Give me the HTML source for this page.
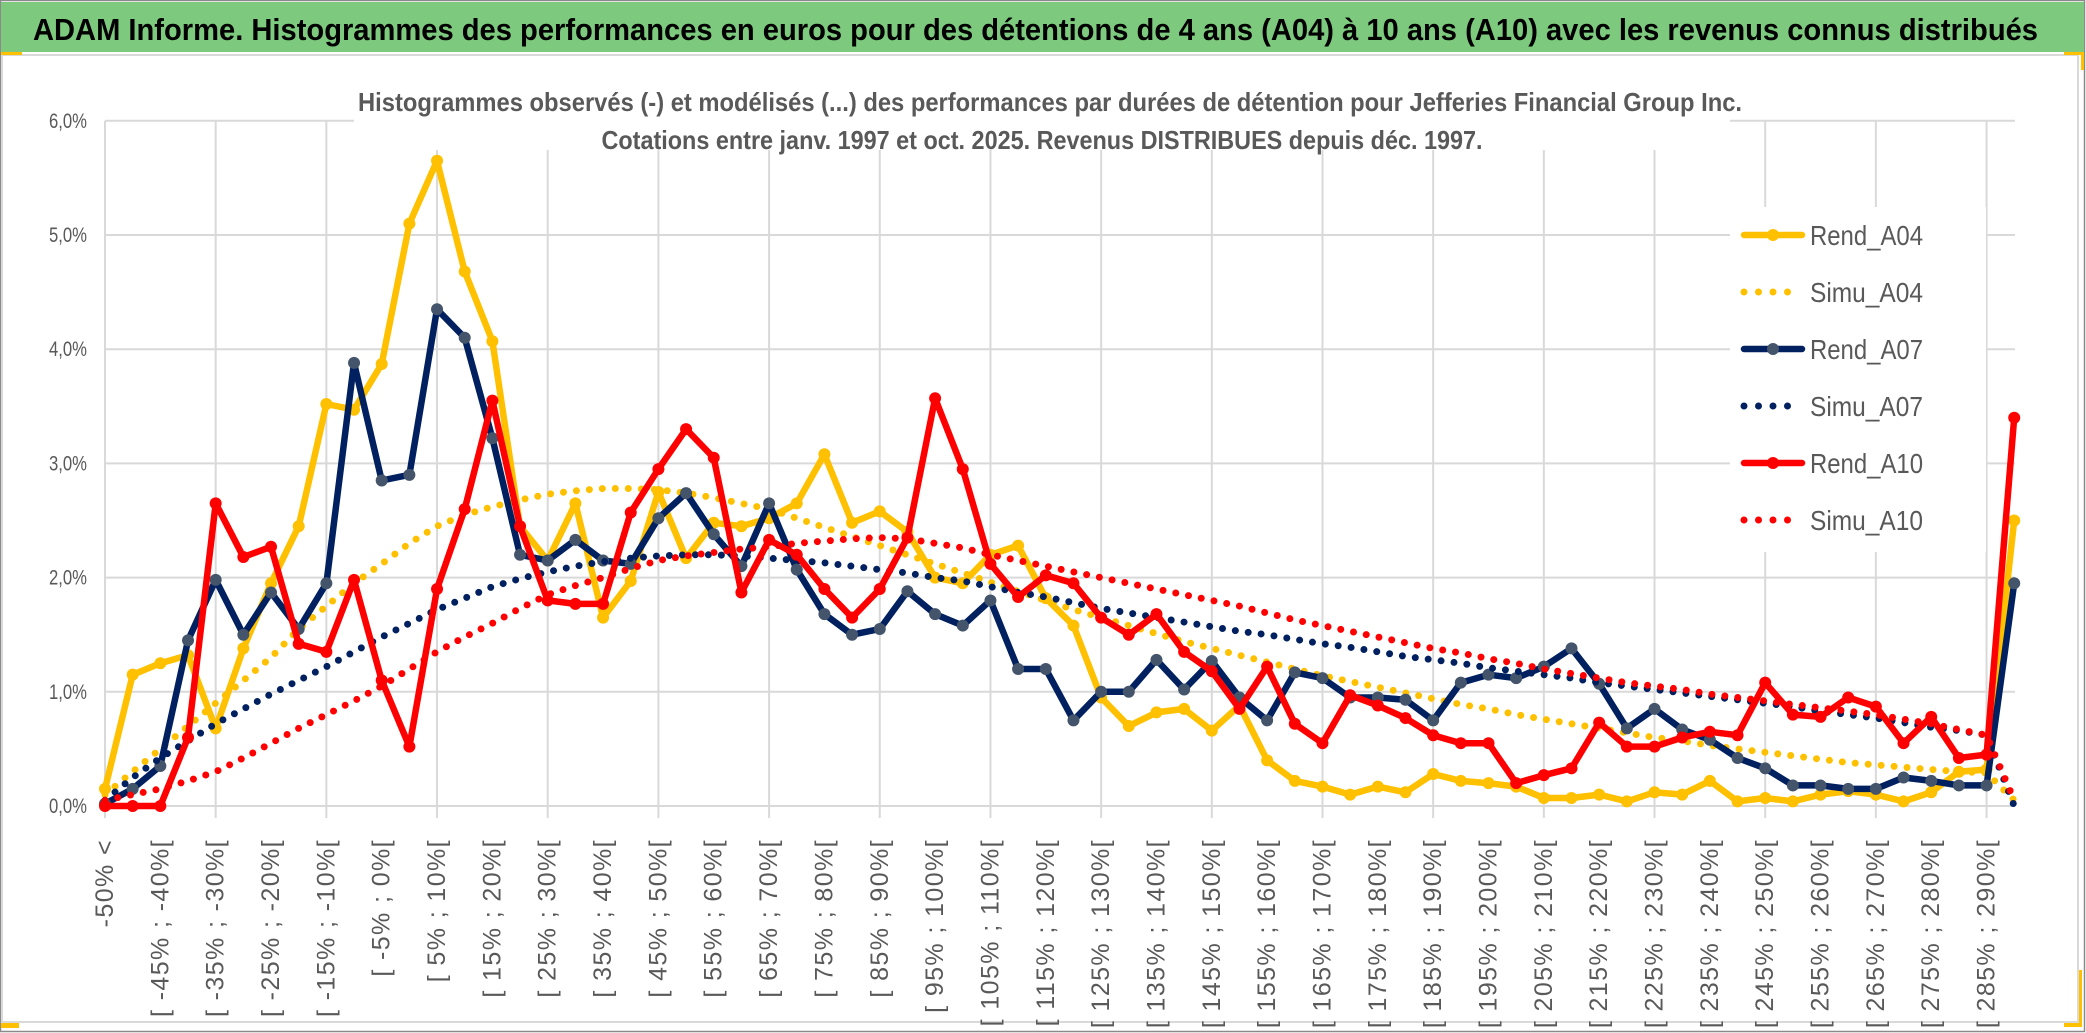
<!DOCTYPE html>
<html><head><meta charset="utf-8"><style>
html,body{margin:0;padding:0;background:#fff;}
svg{display:block;font-family:"Liberation Sans",sans-serif;}
</style></head><body>
<svg id="chart" width="2086" height="1033" viewBox="0 0 2086 1033" xmlns="http://www.w3.org/2000/svg">
<rect x="0" y="0" width="2086" height="1033" fill="#fff"/>
<rect x="0.5" y="0.5" width="2084" height="1031" fill="none" stroke="#8a8a8a" stroke-width="1.5"/>
<rect x="1" y="2" width="2083" height="50" fill="#7dca7e"/>
<text x="33" y="40" font-size="31" font-weight="bold" fill="#000" textLength="2005" lengthAdjust="spacingAndGlyphs">ADAM Informe. Histogrammes des performances en euros pour des détentions de 4 ans (A04) à 10 ans (A10) avec les revenus connus distribués</text>
<rect x="2" y="55" width="2076" height="967" fill="none" stroke="#d9d9d9" stroke-width="2"/>
<rect x="1" y="52" width="21" height="3" fill="#ffc000"/>
<rect x="2064" y="52" width="20" height="3" fill="#ffc000"/>
<rect x="2081" y="52" width="3" height="18" fill="#ffc000"/>
<rect x="2064" y="1023" width="18" height="4" fill="#ffc000"/>
<rect x="2079" y="970" width="3" height="56" fill="#ffc000"/>
<rect x="1" y="1023" width="18" height="5" fill="#ffc000"/>
<g id="grid"></g>
<rect x="354" y="60" width="1376" height="90" fill="#fff"/>
<text x="1050" y="111" font-size="26" font-weight="bold" fill="#595959" text-anchor="middle" textLength="1384" lengthAdjust="spacingAndGlyphs">Histogrammes observés (-) et modélisés (...) des performances par durées de détention pour Jefferies Financial Group Inc.</text>
<text x="1042" y="149" font-size="26" font-weight="bold" fill="#595959" text-anchor="middle" textLength="881" lengthAdjust="spacingAndGlyphs">Cotations entre janv. 1997 et oct. 2025. Revenus DISTRIBUES depuis déc. 1997.</text>
<g id="yaxis"></g>
<g id="xaxis"></g>
<rect x="1730" y="207" width="256" height="345" fill="#fff"/>
<g id="series"></g>
<g id="legend"></g>
</svg>
<script>
const yTicks = [0,1,2,3,4,5,6];
const yTickLabels = ["0,0%","1,0%","2,0%","3,0%","4,0%","5,0%","6,0%"];
const seriesNames = ["Rend_A04","Simu_A04","Rend_A07","Simu_A07","Rend_A10","Simu_A10"];
const rendA04 = [0.15,1.15,1.25,1.32,0.68,1.38,1.95,2.45,3.52,3.47,3.87,5.1,5.65,4.68,4.07,2.45,2.15,2.65,1.65,1.97,2.75,2.17,2.48,2.45,2.52,2.65,3.08,2.48,2.58,2.4,2.0,1.95,2.2,2.28,1.82,1.58,0.95,0.7,0.82,0.85,0.66,0.88,0.4,0.22,0.17,0.1,0.17,0.12,0.28,0.22,0.2,0.17,0.07,0.07,0.1,0.04,0.12,0.1,0.22,0.04,0.07,0.04,0.1,0.13,0.1,0.04,0.12,0.3,0.32,2.5];
const simuA04 = [0.1,0.3,0.5,0.7,0.9,1.1,1.3,1.55,1.75,1.95,2.12,2.3,2.45,2.55,2.62,2.68,2.73,2.76,2.78,2.78,2.77,2.74,2.7,2.65,2.6,2.52,2.44,2.36,2.28,2.2,2.12,2.04,1.96,1.88,1.8,1.72,1.65,1.58,1.51,1.44,1.38,1.32,1.26,1.2,1.14,1.09,1.04,0.99,0.94,0.89,0.85,0.8,0.76,0.72,0.68,0.64,0.6,0.57,0.53,0.5,0.47,0.44,0.41,0.38,0.36,0.34,0.32,0.3,0.29,0.05];
const rendA07 = [0.02,0.15,0.35,1.45,1.98,1.5,1.87,1.55,1.95,3.88,2.85,2.9,4.35,4.1,3.22,2.2,2.15,2.33,2.15,2.12,2.52,2.74,2.38,2.1,2.65,2.07,1.68,1.5,1.55,1.88,1.68,1.58,1.8,1.2,1.2,0.75,1.0,1.0,1.28,1.02,1.27,0.95,0.75,1.17,1.12,0.95,0.95,0.93,0.75,1.08,1.15,1.12,1.22,1.38,1.07,0.68,0.85,0.67,0.58,0.42,0.33,0.18,0.18,0.15,0.15,0.25,0.22,0.18,0.18,1.95];
const simuA07 = [0.05,0.25,0.42,0.57,0.72,0.85,0.98,1.1,1.22,1.35,1.48,1.6,1.72,1.82,1.92,1.99,2.05,2.1,2.14,2.17,2.19,2.2,2.2,2.19,2.17,2.15,2.13,2.1,2.07,2.04,2.0,1.97,1.92,1.87,1.83,1.78,1.73,1.69,1.65,1.61,1.57,1.53,1.5,1.46,1.42,1.39,1.35,1.31,1.28,1.25,1.21,1.18,1.15,1.12,1.08,1.05,1.02,0.99,0.96,0.93,0.9,0.87,0.83,0.8,0.77,0.73,0.69,0.66,0.62,0.0];
const rendA10 = [0.0,0.0,0.0,0.6,2.65,2.18,2.27,1.42,1.35,1.98,1.1,0.52,1.9,2.6,3.55,2.45,1.8,1.77,1.77,2.57,2.95,3.3,3.05,1.87,2.33,2.2,1.9,1.65,1.9,2.35,3.57,2.95,2.12,1.83,2.02,1.95,1.65,1.5,1.68,1.35,1.18,0.85,1.22,0.72,0.55,0.97,0.88,0.77,0.62,0.55,0.55,0.2,0.27,0.33,0.73,0.52,0.52,0.6,0.65,0.62,1.08,0.8,0.78,0.95,0.87,0.55,0.78,0.42,0.45,3.4];
const simuA10 = [0.05,0.1,0.15,0.22,0.3,0.42,0.55,0.68,0.8,0.92,1.05,1.2,1.35,1.48,1.6,1.73,1.85,1.93,2.0,2.08,2.15,2.19,2.22,2.25,2.27,2.3,2.32,2.34,2.35,2.34,2.3,2.26,2.2,2.15,2.1,2.05,2.0,1.95,1.9,1.85,1.8,1.75,1.69,1.63,1.58,1.53,1.48,1.43,1.38,1.34,1.29,1.25,1.2,1.16,1.12,1.08,1.05,1.02,0.98,0.95,0.92,0.89,0.86,0.83,0.8,0.76,0.72,0.67,0.62,0.05];
const categories = ["-50% <"];
for (let i = 1; i < 70; i++) { const a = -50 + 5*(i-1); categories.push("[ " + a + "% ; " + (a+5) + "%["); }

const NS = "http://www.w3.org/2000/svg";
const X0 = 105, DX = 27.67, Y0 = 806, PPU = 114.2, XR = 2015;
function xs(i){ return X0 + i*DX; }
function ys(v){ return Y0 - v*PPU; }
function mk(tag, attrs, parent){ const e = document.createElementNS(NS, tag); for (const k in attrs) e.setAttribute(k, attrs[k]); parent.appendChild(e); return e; }

const grid = document.getElementById("grid");
yTicks.forEach((t) => {
  const l = mk("line", {x1:X0, x2:XR, y1:ys(t), y2:ys(t), stroke:"#d9d9d9", "stroke-width":2}, grid);
  
  
});
for (let i = 0; i < categories.length; i += 4) {
  const l = mk("line", {x1:xs(i), x2:xs(i), y1:ys(6), y2:ys(0)+12, stroke:"#d9d9d9", "stroke-width":2}, grid);
  
  
}
const yaxis = document.getElementById("yaxis");
yTicks.forEach((t, k) => {
  const tx = mk("text", {x:87, y:ys(t)+7, "font-size":21, fill:"#595959", "text-anchor":"end", textLength:38, lengthAdjust:"spacingAndGlyphs"}, yaxis);
  tx.textContent = yTickLabels[k];
  
  
});
const xaxis = document.getElementById("xaxis");
categories.forEach((c, i) => {
  if (i % 2) return;
  const x = xs(i), y = 839;
  const tx = mk("text", {x:x, y:y, "font-size":25, fill:"#595959", "text-anchor":"end", "dominant-baseline":"central", "letter-spacing":"1.4", transform:"rotate(-90 "+x+" "+y+")"}, xaxis);
  tx.textContent = c;
  
  
});

const series = document.getElementById("series");
function pts(arr){ return arr.map((v,i)=>xs(i).toFixed(1)+","+ys(v).toFixed(1)).join(" "); }
function simu(arr, color, name){
  const p = mk("polyline", {points:pts(arr), fill:"none", stroke:color, "stroke-width":7, "stroke-dasharray":"0 13", "stroke-linecap":"round"}, series);
  
  
}
function rend(arr, color, mcolor, name){
  const g = mk("g", {}, series);
  
  
  const p = mk("polyline", {points:pts(arr), fill:"none", stroke:color, "stroke-width":6.5, "stroke-linejoin":"round"}, g);
  
  
  arr.forEach((v,i)=>{
    const c = mk("circle", {cx:xs(i), cy:ys(v), r:6, fill:mcolor}, g);
    
    
  });
}
rend(rendA04, "#ffc000", "#ffc000", "series-rend-a04");
simu(simuA04, "#ffc000", "series-simu-a04");
rend(rendA07, "#002060", "#44546a", "series-rend-a07");
simu(simuA07, "#002060", "series-simu-a07");
rend(rendA10, "#ff0000", "#ff0000", "series-rend-a10");
simu(simuA10, "#ff0000", "series-simu-a10");

const legend = document.getElementById("legend");
const legColors = ["#ffc000","#ffc000","#002060","#002060","#ff0000","#ff0000"];
seriesNames.forEach((n, k) => {
  const y = 235 + k*57;
  const g = mk("g", {}, legend);
  
  
  if (k % 2 === 0) {
    mk("line", {x1:1744, x2:1802, y1:y, y2:y, stroke:legColors[k], "stroke-width":6.5, "stroke-linecap":"round"}, g);
    mk("circle", {cx:1773, cy:y, r:6, fill: k===2 ? "#44546a" : legColors[k]}, g);
  } else {
    mk("line", {x1:1744, x2:1802, y1:y, y2:y, stroke:legColors[k], "stroke-width":7, "stroke-dasharray":"0 14.5", "stroke-linecap":"round"}, g);
  }
  const t = mk("text", {x:1810, y:y+10, "font-size":28, fill:"#595959", textLength:113, lengthAdjust:"spacingAndGlyphs"}, g);
  t.textContent = n;
});
</script>
</body></html>
